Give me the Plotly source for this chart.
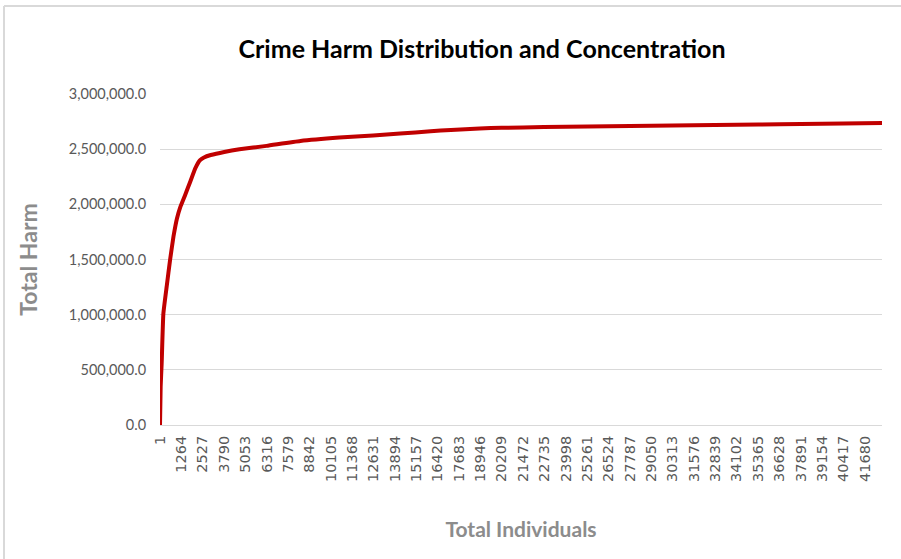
import plotly.graph_objects as go

# Cumulative harm (individual rank -> cumulative total harm)
individuals = [1, 40, 100, 200, 400, 600, 800, 1000, 1200, 1500, 1800, 2100, 2370, 2600,
               3000, 3800, 4700, 6300, 8300, 10600, 12600, 14200, 16000, 17200, 18900,
               20200, 22700, 25300, 27800, 30300, 32800, 35400, 37900, 40400, 42690]
total_harm = [0, 350000, 560000, 1010000, 1260000, 1500000, 1710000, 1870000, 1975000,
              2090000, 2210000, 2330000, 2400000, 2425000, 2447000, 2475000, 2499000,
              2530000, 2574000, 2605000, 2625000, 2642000, 2662000, 2674000, 2688000,
              2693000, 2700000, 2705000, 2710000, 2715000, 2720000, 2724000, 2728000,
              2732000, 2737000]

tick_labels = [1, 1264, 2527, 3790, 5053, 6316, 7579, 8842, 10105, 11368, 12631, 13894,
               15157, 16420, 17683, 18946, 20209, 21472, 22735, 23998, 25261, 26524,
               27787, 29050, 30313, 31576, 32839, 34102, 35365, 36628, 37891, 39154,
               40417, 41680]
y_ticks = [0, 500000, 1000000, 1500000, 2000000, 2500000, 3000000]

fig = go.Figure()
fig.add_trace(go.Scatter(
    x=individuals, y=total_harm, mode="lines",
    line=dict(color="#c00000", width=4, shape="spline", smoothing=0.4),
    hoverinfo="x+y", showlegend=False,
))

fig.update_layout(
    width=901, height=559,
    margin=dict(l=160, r=19, t=94, b=134),
    paper_bgcolor="white", plot_bgcolor="white",
    title=dict(text="<b>Crime Harm Distribution and Concentration</b>",
               x=0.535, xanchor="center", y=0.912, yanchor="middle",
               font=dict(family="Lato", size=25, color="#000000")),
    font=dict(family="Lato"),
    xaxis=dict(
        range=[1, 42690], tickmode="array", tickvals=tick_labels,
        ticktext=[str(t) for t in tick_labels], tickangle=-90,
        tickfont=dict(family="DejaVu Sans", size=14.5, color="#595959"),
        showgrid=False, showline=True, linecolor="#d9d9d9", linewidth=1,
        ticks="outside", ticklen=4, tickcolor="rgba(0,0,0,0)", zeroline=False,
        title=dict(text="<b>Total Individuals</b>", standoff=41,
                   font=dict(family="Lato", size=21, color="#8c8c8c")),
    ),
    yaxis=dict(
        range=[0, 3000000], tickmode="array", tickvals=y_ticks,
        ticktext=[f"{v:,.1f}" for v in y_ticks],
        tickfont=dict(family="Lato", size=14.5, color="#595959"),
        showgrid=True, gridcolor="#d9d9d9", gridwidth=1,
        showline=False, zeroline=False,
        ticks="outside", ticklen=10, tickcolor="rgba(0,0,0,0)",
        title=dict(text="<b>Total Harm</b>", standoff=24,
                   font=dict(family="Lato", size=23, color="#8c8c8c")),
    ),
)

# Outer frame of the original screenshot
fig.add_shape(type="line", xref="paper", yref="paper",
              x0=(4 - 160) / 722, x1=(901 - 160) / 722,
              y0=(425 - 6) / 331, y1=(425 - 6) / 331,
              line=dict(color="#d9d9d9", width=2))
fig.add_shape(type="line", xref="paper", yref="paper",
              x0=(4 - 160) / 722, x1=(4 - 160) / 722,
              y0=(425 - 559) / 331, y1=(425 - 6) / 331,
              line=dict(color="#d9d9d9", width=2))

fig.write_html("out.html")
